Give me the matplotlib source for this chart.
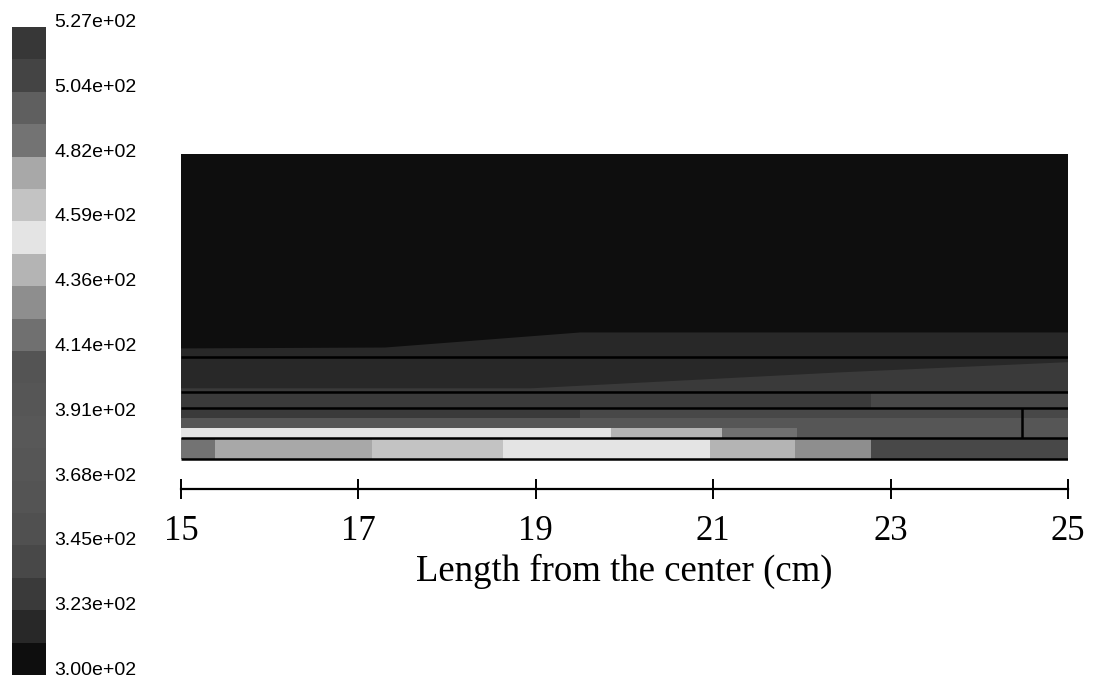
import numpy as np
import matplotlib
matplotlib.use("Agg")
import matplotlib.pyplot as plt
from matplotlib.colors import ListedColormap, BoundaryNorm
from matplotlib.cm import ScalarMappable

# temperature bands (K) and the gray level of each band, bottom to top
levels = np.linspace(300, 527, 21)
band_gray = [14, 40, 58, 72, 80, 84, 86, 88, 86, 84,
             112, 142, 180, 228, 195, 168, 115, 95, 68, 55]
label_values = levels[::2]
cbar_labels = ["3.00e+02", "3.23e+02", "3.45e+02", "3.68e+02", "3.91e+02", "4.14e+02",
               "4.36e+02", "4.59e+02", "4.82e+02", "5.04e+02", "5.27e+02"]

x_ticks = [15, 17, 19, 21, 23, 25]

# layer interfaces (cm above the bottom wall)
y_bottom = 0.0
y_layer1 = 0.237
y_streak = 0.353
y_mid = 0.466
y_layer2 = 0.582
y_layer3 = 0.762
y_layer4 = 1.150
y_layer5 = 1.430
y_top = 3.442
y_axis = -0.335

# bottom layer: piecewise temperatures along x
bot_x = [15, 15.38, 17.15, 18.63, 20.96, 21.92, 22.78, 25]
bot_T = [488, 476, 465, 453, 442, 431, 340]
# second layer, split into three strips
streak_x = [15, 19.85, 21.1, 21.95, 25]
streak_T = [453, 442, 419, 374]
mid_x = [15, 25]
mid_T = [374]
upper_x = [15, 19.5, 25]
upper_T = [328, 340]
# third layer
l3_x = [15, 22.78, 25]
l3_T = [328, 340]
# fourth layer: cooler base with a warmer wedge at lower right
l4_T = [317, 328]
l4_wedge_x = [15, 15, 18.94, 22.43, 25, 25]
l4_wedge_y = [0.762, 0.80, 0.80, 0.98, 1.095, 0.762]
# fifth layer
l5_T = [305, 317]
l5_wedge_x = [15, 15, 17.3, 19.5, 25, 25]
l5_wedge_y = [1.15, 1.25, 1.26, 1.43, 1.43, 1.15]
# top block
top_T = 305
# vertical interface inside the second layer
wall_x = 24.48

cmap = ListedColormap([(g / 255, g / 255, g / 255) for g in band_gray])
norm = BoundaryNorm(levels, cmap.N)

fig = plt.figure(figsize=(10.97, 6.78), dpi=100)

# ---- colour bar ----
cax = fig.add_axes([12 / 1097, 3 / 678, 34 / 1097, 648 / 678])
cb = fig.colorbar(ScalarMappable(norm=norm, cmap=cmap), cax=cax, ticks=[])
cb.outline.set_visible(False)
cax.minorticks_off()
cax.tick_params(which="both", length=0, labelright=False)
for v, s in zip(label_values, cbar_labels):
    cax.text(1.25, (v - levels[0]) / (levels[-1] - levels[0]), s, transform=cax.transAxes,
             ha="left", va="baseline", fontsize=14, family="Liberation Sans")

# ---- contour field ----
ax = fig.add_axes([181 / 1097, (678 - 489) / 678, 887 / 1097, (489 - 154) / 678])


def strip(xs, y0, y1, temps):
    ax.pcolormesh(np.array(xs), np.array([y0, y1]), np.array([temps]),
                  cmap=cmap, norm=norm, shading="flat")


strip(bot_x, y_bottom, y_layer1, bot_T)
strip(streak_x, y_layer1, y_streak, streak_T)
strip(mid_x, y_streak, y_mid, mid_T)
strip(upper_x, y_mid, y_layer2, upper_T)
strip(l3_x, y_layer2, y_layer3, l3_T)
strip([15, 25], y_layer3, y_layer4, [l4_T[0]])
ax.fill(l4_wedge_x, l4_wedge_y, color=cmap(norm(l4_T[1])), lw=0)
strip([15, 25], y_layer4, y_layer5, [l5_T[0]])
ax.fill(l5_wedge_x, l5_wedge_y, color=cmap(norm(l5_T[1])), lw=0)
strip([15, 25], y_layer5, y_top, [top_T])

ax.hlines([y_bottom, y_layer1, y_layer2, y_layer3, y_layer4], 15, 25, color="black", lw=1.8)
ax.vlines(wall_x, y_layer1, y_layer2, color="black", lw=1.8)

ax.set_xlim(15, 25)
ax.set_ylim(y_axis, y_top)
for side in ["top", "left", "right"]:
    ax.spines[side].set_visible(False)
ax.spines["bottom"].set_linewidth(1.6)
ax.set_yticks([])
ax.set_xticks(x_ticks)
ax.tick_params(axis="x", direction="inout", length=14, width=1.4, pad=12, labelsize=25)
for lab in ax.get_xticklabels():
    lab.set_family("Liberation Serif")
ax.set_xlabel("Length from the center (cm)", fontsize=26.5, family="Liberation Serif", labelpad=4)

fig.savefig("out.png", dpi=100)
